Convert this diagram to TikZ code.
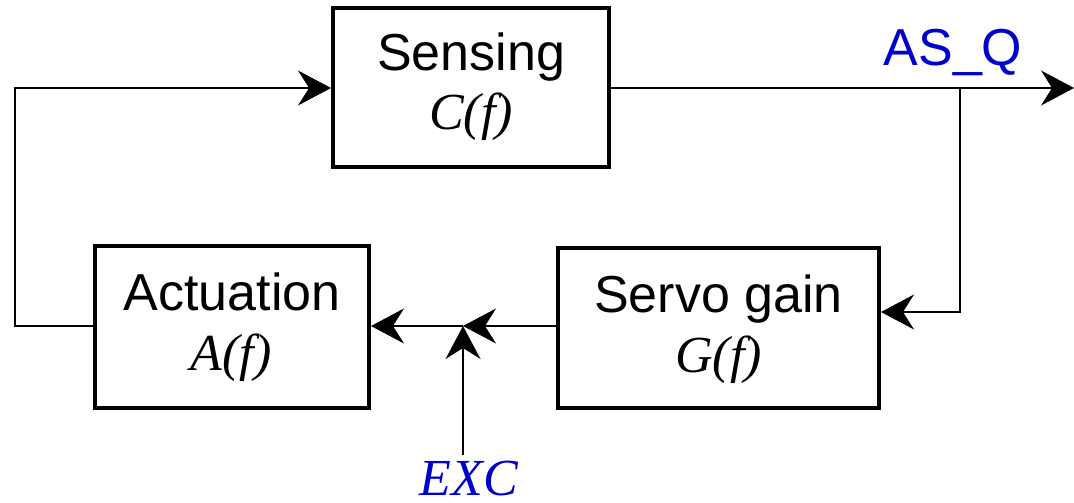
\documentclass[tikz,border=0pt]{standalone}
\usepackage{fontspec}
\setmainfont{Liberation Serif}
\setsansfont{Liberation Sans}
\usetikzlibrary{arrows.meta}
\definecolor{lblblue}{RGB}{0,0,204}
\begin{document}
\begin{tikzpicture}[x=0.02cm,y=-0.02cm,
  blk/.style={draw=black,line width=0.08cm,fill=white,inner sep=0pt},
  ttl/.style={font=\sffamily\fontsize{29.6pt}{30pt}\selectfont,anchor=base,inner sep=0pt},
  fn/.style={font=\rmfamily\itshape\fontsize{29.6pt}{30pt}\selectfont,anchor=base,inner sep=0pt},
  wire/.style={line width=0.03cm,draw=black},
  arr/.style={-{Stealth[length=0.66cm,width=0.7cm,inset=0.22cm]}}]
\useasboundingbox (0,0) rectangle (1074,503);
% blocks
\node[blk,minimum width=276*0.02cm,minimum height=159*0.02cm] (sens) at (471,87.5) {};
\node[blk,minimum width=274*0.02cm,minimum height=162*0.02cm] (act) at (232,327) {};
\node[blk,minimum width=321*0.02cm,minimum height=160*0.02cm] (servo) at (718.5,328) {};
% texts
\node[ttl] (senst) at (471,71) {Sensing};
\node[fn] (sensf) at (471,130) {C(f)};
\node[ttl] (actt) at (232,310) {Actuation};
\node[fn] (actf) at (231,370) {A(f)};
\node[ttl] (servot) at (718.5,312) {Servo gain};
\node[fn] (servof) at (718.5,372) {G(f)};
\node[ttl,text=lblblue] (asq) at (953,66) {AS\_Q};
\node[fn,text=lblblue] (exc) at (469,495) {EXC};
% coordinates
\coordinate (lc) at (15,88);
\coordinate (out) at (1074,88);
\coordinate (br) at (960,88);
\coordinate (junc) at (463,326);
\coordinate (excs) at (463,455);
% connectors
\draw[wire,arr] (act.west |- junc) -| (lc) -- (sens.west |- lc);
\draw[wire,arr] (sens.east |- out) -- (out);
\draw[wire,arr] (br) |- (servo.east |- 0,312);
\draw[wire,arr] (servo.west |- junc) -- (junc);
\draw[wire,arr] (junc) -- (act.east |- junc);
\draw[wire,arr] (excs) -- (junc);
\end{tikzpicture}
\end{document}
